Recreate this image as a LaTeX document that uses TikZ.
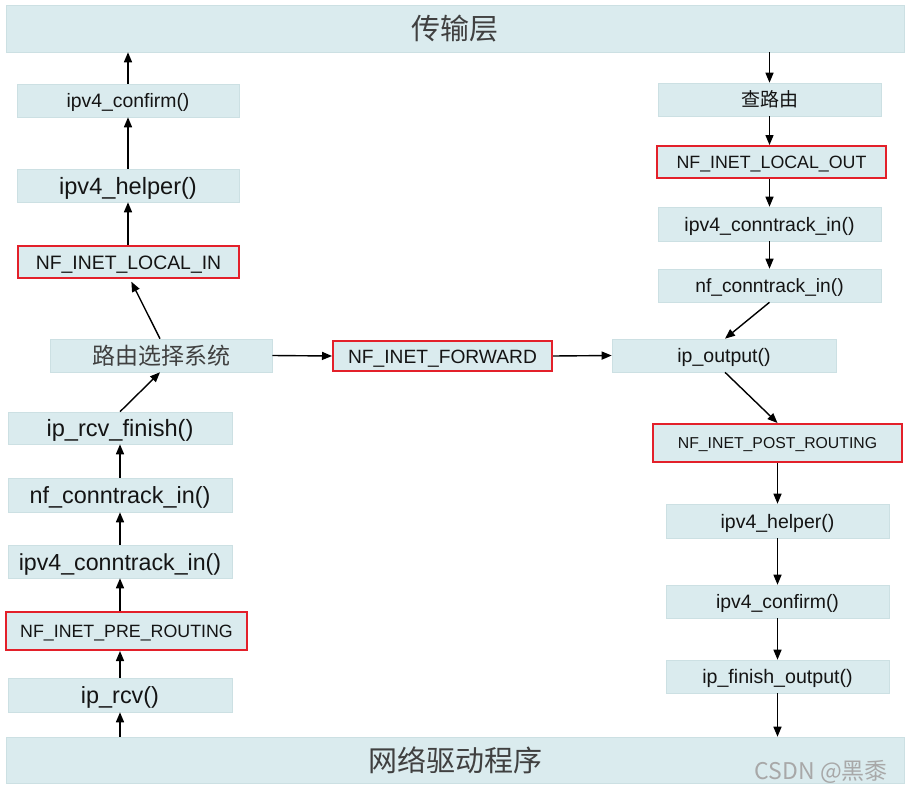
\documentclass[tikz,border=0pt]{standalone}
\usepackage{fontspec}
\setmainfont{Liberation Sans}
\newfontfamily\cjk{Noto Sans CJK SC}
\usetikzlibrary{arrows.meta}
\definecolor{boxfill}{HTML}{DAEBEE}
\definecolor{boxedge}{HTML}{CCE0E3}
\definecolor{hookred}{HTML}{E3202A}
\definecolor{cjkgray}{HTML}{404040}
\definecolor{txt}{HTML}{141414}
\definecolor{wmgray}{HTML}{A8A8A8}
\begin{document}
\begin{tikzpicture}[x=1pt,y=-1pt,
  box/.style={draw=boxedge, line width=0.6pt, fill=boxfill, inner sep=0pt, text=txt},
  hook/.style={box, draw=hookred, line width=2pt},
  fs/.style={font=\fontsize{#1}{#1}\selectfont, text height={0.74*#1pt}, text depth=0pt},
  cj/.style={font=\cjk\fontsize{#1}{#1}\selectfont, text=cjkgray},
  arr/.style={-{Triangle[length=10pt,width=8pt]}, line width=1.4pt, black}]
\useasboundingbox (0,0) rectangle (905,787);
\fill[white] (0,0) rectangle (905,787);
% bars
\node[box, minimum width=898pt, minimum height=47pt, cj=29] (top) at (455,28.5) {传输层};
\node[box, minimum width=898pt, minimum height=46pt, cj=29] (bot) at (455,760) {网络驱动程序};
% left column
\node[box, minimum width=222pt, minimum height=33pt, fs=19.4] (lconf) at (128,100.5) {ipv4\_confirm()};
\node[box, minimum width=222pt, minimum height=33pt, fs=23.6] (lhelp) at (128,185.5) {ipv4\_helper()};
\node[hook, minimum width=221pt, minimum height=32pt, fs=19.4] (lin) at (128.5,262) {NF\_INET\_LOCAL\_IN};
\node[box, minimum width=222pt, minimum height=33pt, cj=23] (rs) at (161,355.5) {路由选择系统};
\node[box, minimum width=224pt, minimum height=32pt, fs=23.6] (rcvf) at (120,428) {ip\_rcv\_finish()};
\node[box, minimum width=224pt, minimum height=34pt, fs=23.4] (lnf) at (120,495) {nf\_conntrack\_in()};
\node[box, minimum width=224pt, minimum height=33pt, fs=23.2] (lipv) at (120,561.5) {ipv4\_conntrack\_in()};
\node[hook, minimum width=241pt, minimum height=38pt, fs=17.8] (pre) at (126.5,631) {NF\_INET\_PRE\_ROUTING};
\node[box, minimum width=224pt, minimum height=34pt, fs=23.4] (rcv) at (120,695) {ip\_rcv()};
% middle
\node[hook, minimum width=219pt, minimum height=30pt, fs=19.2] (fwd) at (442.5,356) {NF\_INET\_FORWARD};
% right column
\node[box, minimum width=223pt, minimum height=33pt, font=\cjk\fontsize{19}{19}\selectfont] (route) at (769.5,99.5) {查路由};
\node[hook, minimum width=229pt, minimum height=32pt, fs=17.8] (lout) at (771.5,162) {NF\_INET\_LOCAL\_OUT};
\node[box, minimum width=223pt, minimum height=34pt, fs=19.5] (ripv) at (769.5,224) {ipv4\_conntrack\_in()};
\node[box, minimum width=223pt, minimum height=33pt, fs=19.2] (rnf) at (769.5,285.5) {nf\_conntrack\_in()};
\node[box, minimum width=224pt, minimum height=33pt, fs=19.5] (ipout) at (724,355.5) {ip\_output()};
\node[hook, minimum width=249pt, minimum height=38pt, fs=15.8] (post) at (777.5,443) {NF\_INET\_POST\_ROUTING};
\node[box, minimum width=223pt, minimum height=34pt, fs=19.5] (rhelp) at (777.5,521) {ipv4\_helper()};
\node[box, minimum width=223pt, minimum height=33pt, fs=19.4] (rconf) at (777.5,601.5) {ipv4\_confirm()};
\node[box, minimum width=223pt, minimum height=33pt, fs=19.6] (fin) at (777.5,676.5) {ip\_finish\_output()};
% watermark
\node[anchor=east, inner sep=0pt, text=wmgray, font=\cjk\fontsize{23}{23}\selectfont] (wm) at (888,772) {CSDN @黑黍};
% left arrows
\draw[arr] (lconf.north) -- (lconf.north |- top.south);
\draw[arr] (lhelp.north) -- (lhelp.north |- lconf.south);
\draw[arr] (lin.north -| lhelp.north) -- (lhelp.south);
\draw[arr, shorten >=3pt] ([xshift=-1pt]rs.north) -- ([xshift=1.5pt]lin.south);
\draw[arr] (rcvf.north) -- ([xshift=-1pt]rs.south);
\draw[arr] (lnf.north) -- (rcvf.south);
\draw[arr] (lipv.north) -- (lnf.south);
\draw[arr] (lipv.south |- pre.north) -- (lipv.south);
\draw[arr] (rcv.north) -- (rcv.north |- pre.south);
\draw[arr] (rcv.south |- bot.north) -- (rcv.south);
% horizontal
\draw[arr] (rs.east) -- (fwd.west);
\draw[arr] (fwd.east) -- (ipout.west);
% right arrows
\draw[arr] (top.south -| route.north) -- (route.north);
\draw[arr] (route.south) -- (route.south |- lout.north);
\draw[arr] (route.south |- lout.south) -- (ripv.north);
\draw[arr] (ripv.south) -- (rnf.north);
\draw[arr] (rnf.south) -- ([xshift=1pt]ipout.north);
\draw[arr] ([xshift=1pt]ipout.south) -- (post.north);
\draw[arr] (post.south) -- (rhelp.north);
\draw[arr] (rhelp.south) -- (rconf.north);
\draw[arr] (rconf.south) -- (fin.north);
\draw[arr] (fin.south) -- (fin.south |- bot.north);
\end{tikzpicture}
\end{document}
